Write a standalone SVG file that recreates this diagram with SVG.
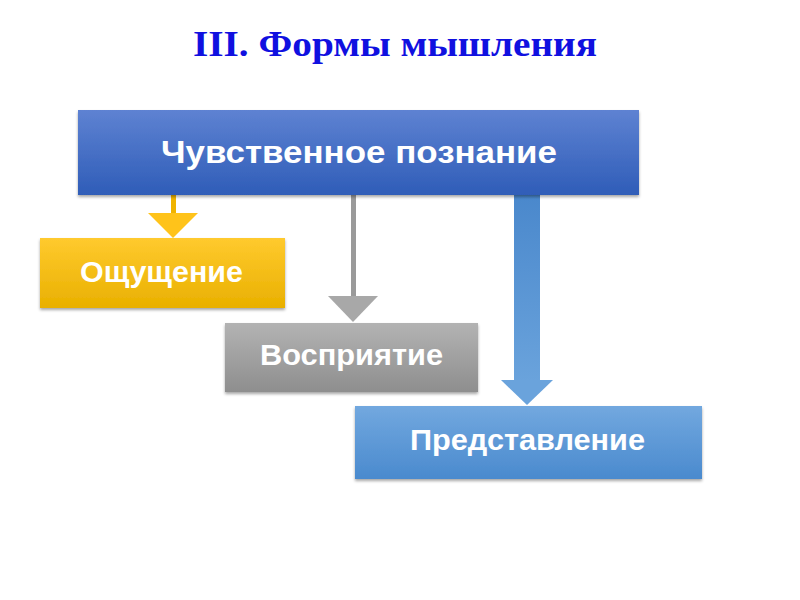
<svg xmlns="http://www.w3.org/2000/svg" width="800" height="600" viewBox="0 0 800 600">
<defs>
<linearGradient id="gTop" x1="0" y1="0" x2="0" y2="1"><stop offset="0" stop-color="#5e82d2"/><stop offset="1" stop-color="#2f5db8"/></linearGradient>
<linearGradient id="gYel" x1="0" y1="0" x2="0" y2="1"><stop offset="0" stop-color="#ffca2e"/><stop offset="1" stop-color="#e9b000"/></linearGradient>
<linearGradient id="gGray" x1="0" y1="0" x2="0" y2="1"><stop offset="0" stop-color="#b3b3b3"/><stop offset="1" stop-color="#8e8e8e"/></linearGradient>
<linearGradient id="gBlue" x1="0" y1="0" x2="0" y2="1"><stop offset="0" stop-color="#72a8df"/><stop offset="1" stop-color="#4a8ace"/></linearGradient>
<linearGradient id="gShaft" x1="0" y1="0" x2="0" y2="1"><stop offset="0" stop-color="#4a88cc"/><stop offset="1" stop-color="#6aa3dc"/></linearGradient>
<filter id="sh" x="-5%" y="-10%" width="110%" height="130%"><feDropShadow dx="0" dy="2" stdDeviation="1.5" flood-color="#000" flood-opacity="0.35"/></filter>
</defs>
<style>
.lbl{font-family:"Liberation Sans",Arial,sans-serif;font-weight:bold;fill:#fff;text-anchor:middle}
.title{font-family:"Liberation Serif","Times New Roman",serif;font-weight:bold;fill:#1010e0;font-size:36px;text-anchor:middle}
</style>
<text class="title" x="395" y="56" textLength="404" lengthAdjust="spacingAndGlyphs">III. Формы мышления</text>
<g id="connectors">
<g id="arrow-yellow"><rect x="171" y="195" width="5" height="20" fill="#f0b400"/><polygon points="148,213 198,213 173,238" fill="#ffc31a"/></g>
<g id="arrow-gray"><rect x="351" y="195" width="5" height="103" fill="#9a9a9a"/><polygon points="328,296 378,296 353,322" fill="#a8a8a8"/></g>
<g id="arrow-blue"><rect x="514" y="195" width="26" height="187" fill="url(#gShaft)"/><polygon points="501,380 553,380 527,405" fill="#6aa3dc"/></g>
</g>
<g id="node-top"><rect x="78" y="110" width="561" height="85" fill="url(#gTop)" filter="url(#sh)"/><text class="lbl" x="359" y="163" font-size="32" textLength="396" lengthAdjust="spacingAndGlyphs">Чувственное познание</text></g>
<g id="node-oshch"><rect x="40" y="238" width="245" height="70" fill="url(#gYel)" filter="url(#sh)"/><text class="lbl" x="161.5" y="282" font-size="29" textLength="163" lengthAdjust="spacingAndGlyphs">Ощущение</text></g>
<g id="node-vospr"><rect x="225" y="323" width="253" height="69" fill="url(#gGray)" filter="url(#sh)"/><text class="lbl" x="351.5" y="365" font-size="29" textLength="183" lengthAdjust="spacingAndGlyphs">Восприятие</text></g>
<g id="node-pred"><rect x="355" y="406" width="347" height="73" fill="url(#gBlue)" filter="url(#sh)"/><text class="lbl" x="527.5" y="450" font-size="29" textLength="235" lengthAdjust="spacingAndGlyphs">Представление</text></g>
</svg>
